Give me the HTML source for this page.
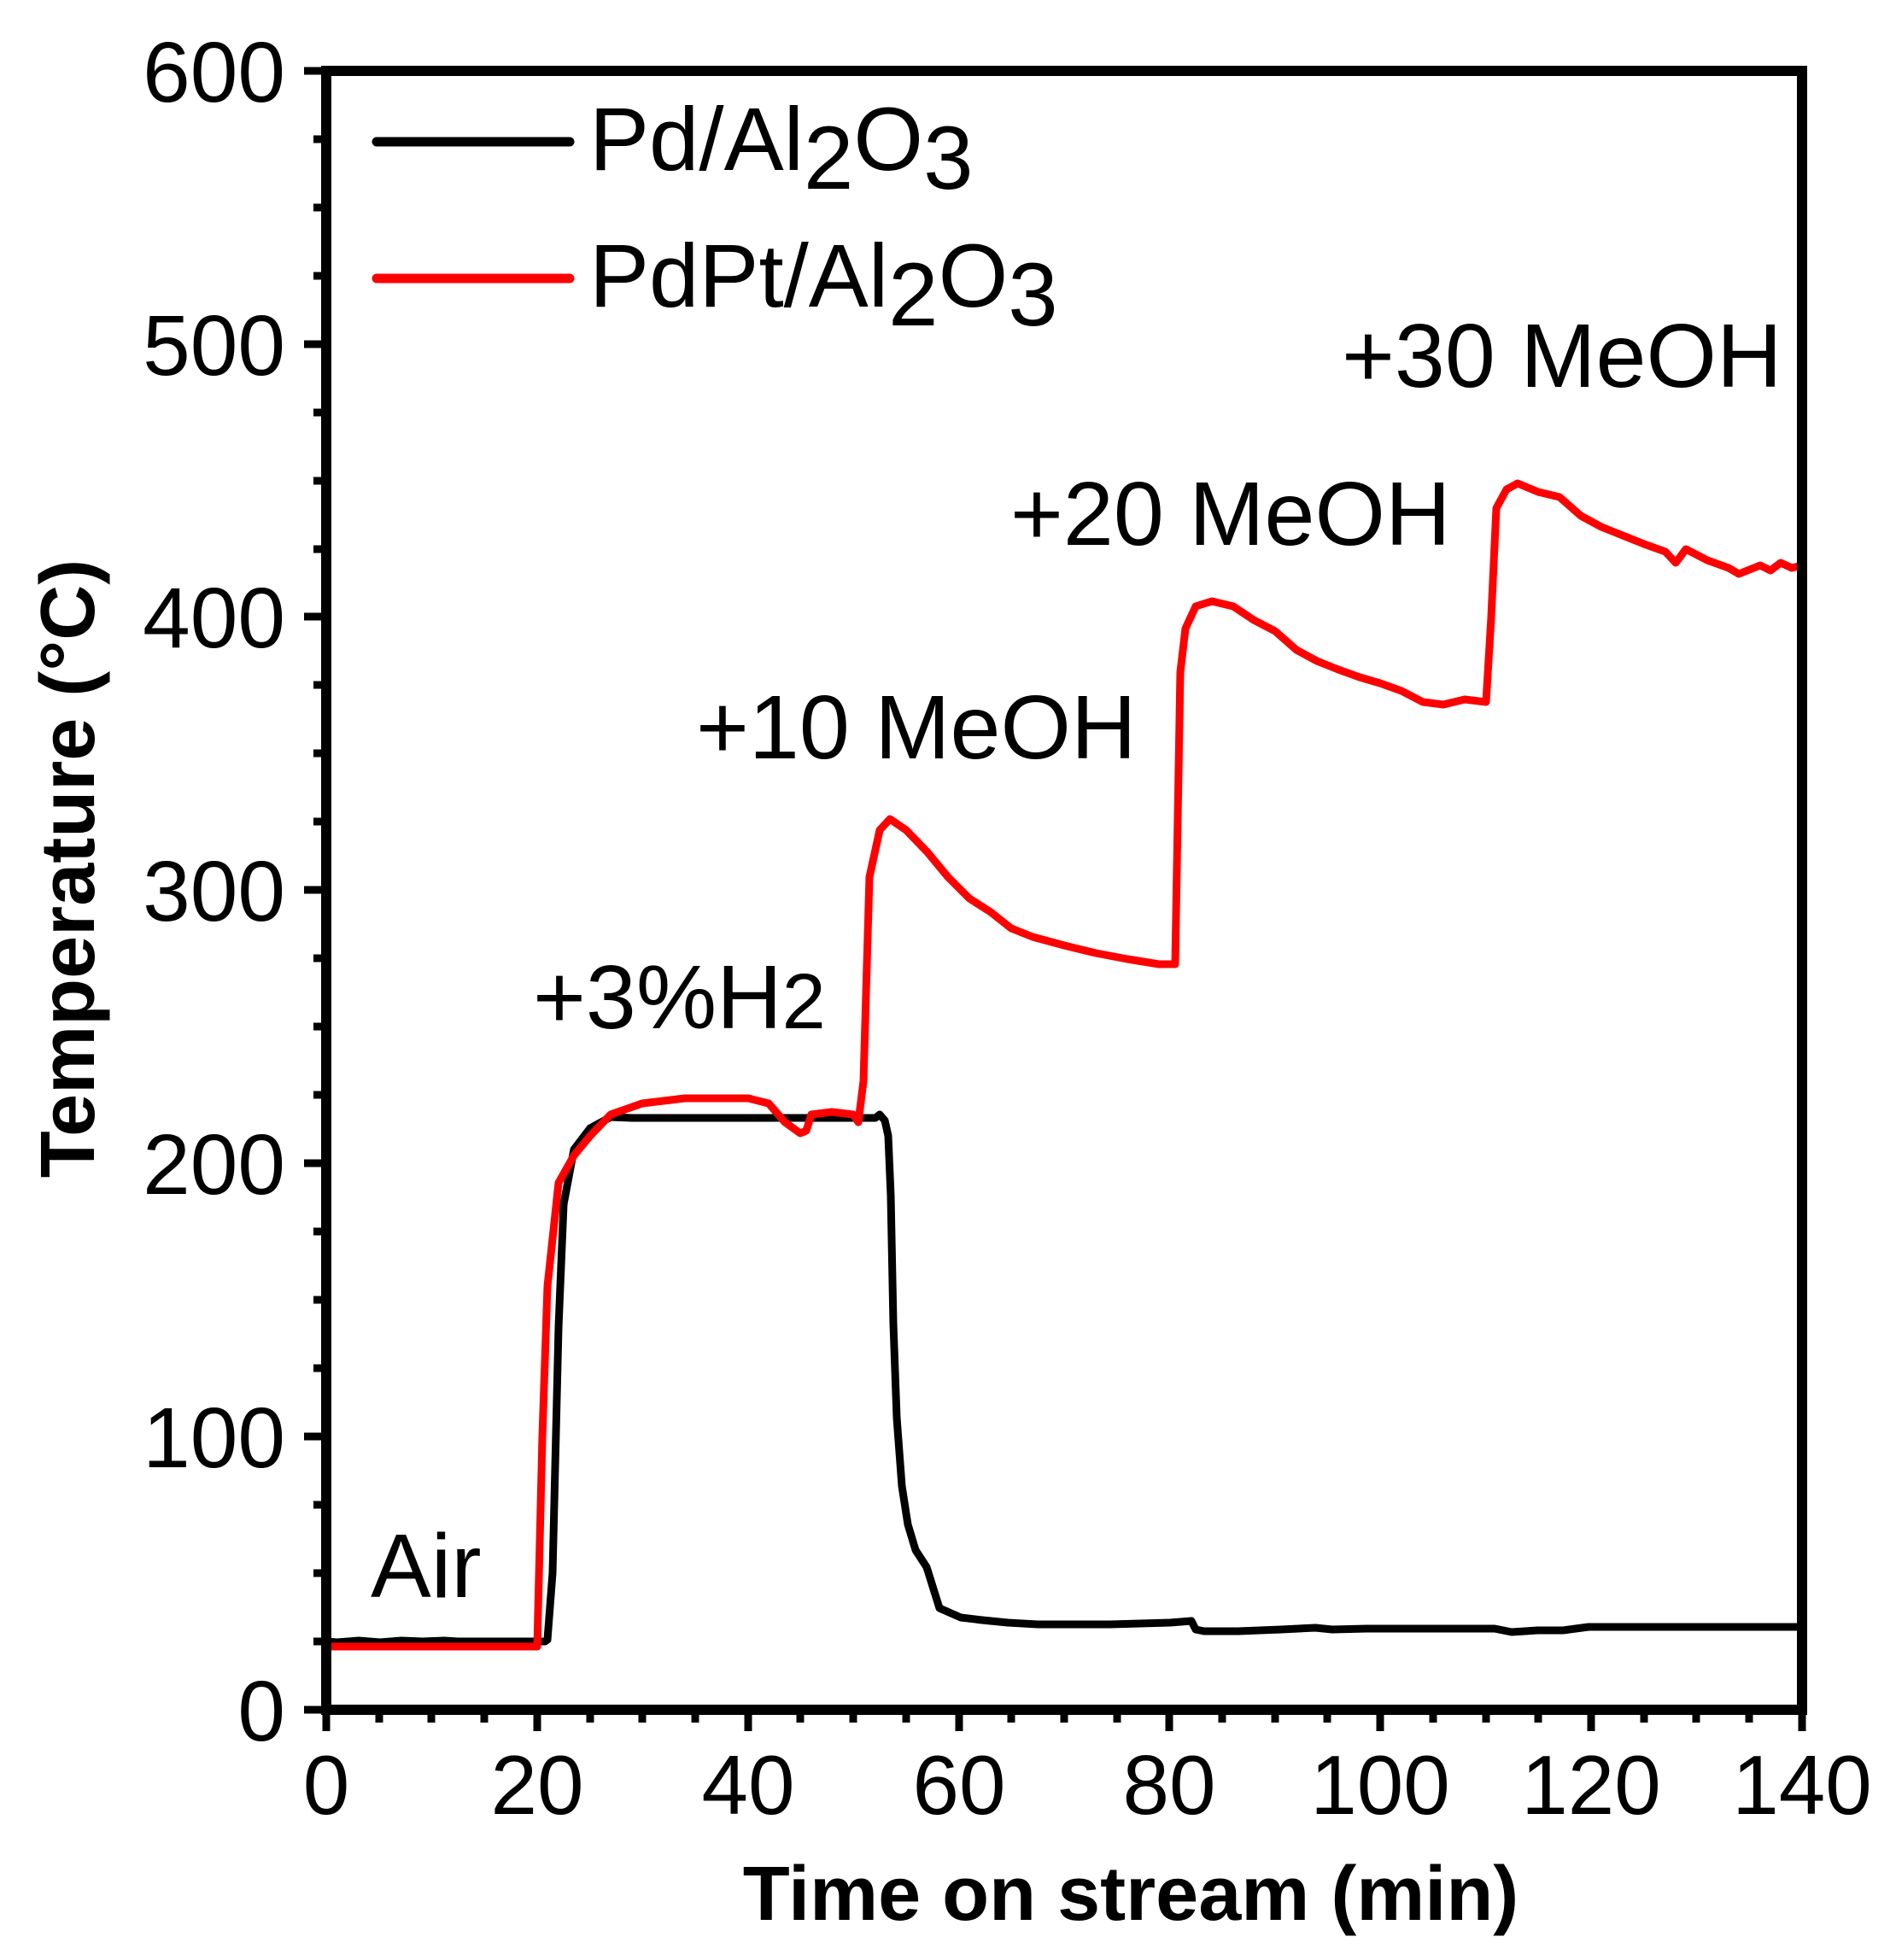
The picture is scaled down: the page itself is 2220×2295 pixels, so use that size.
<!DOCTYPE html>
<html><head><meta charset="utf-8"><style>
html,body{margin:0;padding:0;background:#fff;}
svg{display:block;font-family:"Liberation Sans",Arial,sans-serif;}
</style></head><body>
<svg width="2220" height="2295" viewBox="0 0 2220 2295" xmlns="http://www.w3.org/2000/svg">
<defs>
<clipPath id="c"><rect x="388" y="90" width="1716" height="1908"/></clipPath>
</defs>
<g stroke="#000" stroke-width="9" fill="none">
<path d="M356 83H382M356 403H382M356 722H382M356 1042H382M356 1362H382M356 1682H382M356 2002H382"/>
<path d="M367 163H382M367 243H382M367 323H382M367 483H382M367 563H382M367 643H382M367 802H382M367 882H382M367 962H382M367 1122H382M367 1202H382M367 1282H382M367 1442H382M367 1522H382M367 1602H382M367 1762H382M367 1842H382M367 1922H382"/>
<path d="M382 2002V2027M629 2002V2027M876 2002V2027M1123 2002V2027M1369 2002V2027M1616 2002V2027M1863 2002V2027M2110 2002V2027"/>
<path d="M444 2002V2017M505 2002V2017M567 2002V2017M691 2002V2017M752 2002V2017M814 2002V2017M937 2002V2017M999 2002V2017M1061 2002V2017M1184 2002V2017M1246 2002V2017M1308 2002V2017M1431 2002V2017M1493 2002V2017M1554 2002V2017M1678 2002V2017M1740 2002V2017M1801 2002V2017M1925 2002V2017M1986 2002V2017M2048 2002V2017"/>
</g>
<g clip-path="url(#c)" fill="none" stroke-width="9" stroke-linejoin="round">
<polyline stroke="#000" points="382,1922 395,1923 420,1921 445,1923 470,1921 495,1922 520,1921 536,1922 638,1922 641,1920 647,1842 654,1554 660,1410 672,1346 691,1321 715,1308 740,1309 800,1309 900,1309 1000,1309 1025,1309 1030,1305 1036,1312 1040,1330 1043,1400 1046,1550 1050,1660 1056,1740 1063,1785 1072,1815 1085,1835 1100,1883 1125,1894 1150,1897 1180,1900 1215,1902 1255,1902 1300,1902 1370,1900 1395,1898 1400,1908 1410,1910 1450,1910 1500,1908 1540,1906 1560,1908 1600,1907 1700,1907 1750,1907 1770,1911 1800,1909 1830,1909 1860,1905 1900,1905 2000,1905 2110,1905"/>
<polyline stroke="#f00" points="382,1928 629,1928 635,1682 641,1506 654,1385 672,1353 691,1330 715,1305 752,1292 802,1286 876,1286 900,1292 919,1314 937,1327 944,1324 950,1305 974,1302 999,1305 1005,1314 1011,1266 1018,1027 1030,972 1042,959 1061,972 1086,998 1110,1027 1135,1052 1160,1068 1184,1087 1209,1097 1246,1107 1283,1116 1320,1123 1357,1129 1376,1129 1382,787 1388,736 1400,710 1419,704 1444,710 1468,726 1493,739 1518,761 1542,774 1567,784 1592,793 1616,800 1641,809 1666,822 1690,825 1715,819 1740,822 1746,723 1752,595 1764,573 1777,566 1801,576 1826,582 1851,604 1875,617 1900,627 1925,637 1950,646 1962,659 1974,643 1999,656 2024,665 2036,672 2061,662 2073,668 2085,659 2098,665 2110,662"/>
</g>
<rect x="382" y="83" width="1728" height="1919" fill="none" stroke="#000" stroke-width="12"/>
<g font-size="100" text-anchor="end" fill="#000">
<text x="334" y="119">600</text>
<text x="334" y="439">500</text>
<text x="334" y="758">400</text>
<text x="334" y="1078">300</text>
<text x="334" y="1398">200</text>
<text x="334" y="1718">100</text>
<text x="334" y="2038">0</text>
</g>
<g font-size="98" text-anchor="middle" fill="#000">
<text x="382" y="2124">0</text>
<text x="629" y="2124">20</text>
<text x="876" y="2124">40</text>
<text x="1123" y="2124">60</text>
<text x="1369" y="2124">80</text>
<text x="1616" y="2124">100</text>
<text x="1863" y="2124">120</text>
<text x="2110" y="2124">140</text>
</g>
<text x="1324" y="2248" font-size="90" font-weight="bold" text-anchor="middle">Time on stream (min)</text>
<text transform="translate(110,1017) rotate(-90)" font-size="90" font-weight="bold" text-anchor="middle">Temperature (°C)</text>
<line x1="441" y1="166" x2="667" y2="166" stroke="#000" stroke-width="11" stroke-linecap="round"/>
<line x1="441" y1="326" x2="667" y2="326" stroke="#f00" stroke-width="11" stroke-linecap="round"/>
<text x="690" y="199" font-size="105">Pd/Al<tspan dy="22">2</tspan><tspan dy="-22">O</tspan><tspan dy="22">3</tspan></text>
<text x="690" y="359" font-size="105">PdPt/Al<tspan dy="22">2</tspan><tspan dy="-22">O</tspan><tspan dy="22">3</tspan></text>
<g font-size="106" fill="#000">
<text x="434" y="1870">Air</text>
<text x="624" y="1204">+3%H<tspan font-size="92">2</tspan></text>
<text x="815" y="888">+10 MeOH</text>
<text x="1183" y="638">+20 MeOH</text>
<text x="1571" y="453">+30 MeOH</text>
</g>
</svg>
</body></html>
